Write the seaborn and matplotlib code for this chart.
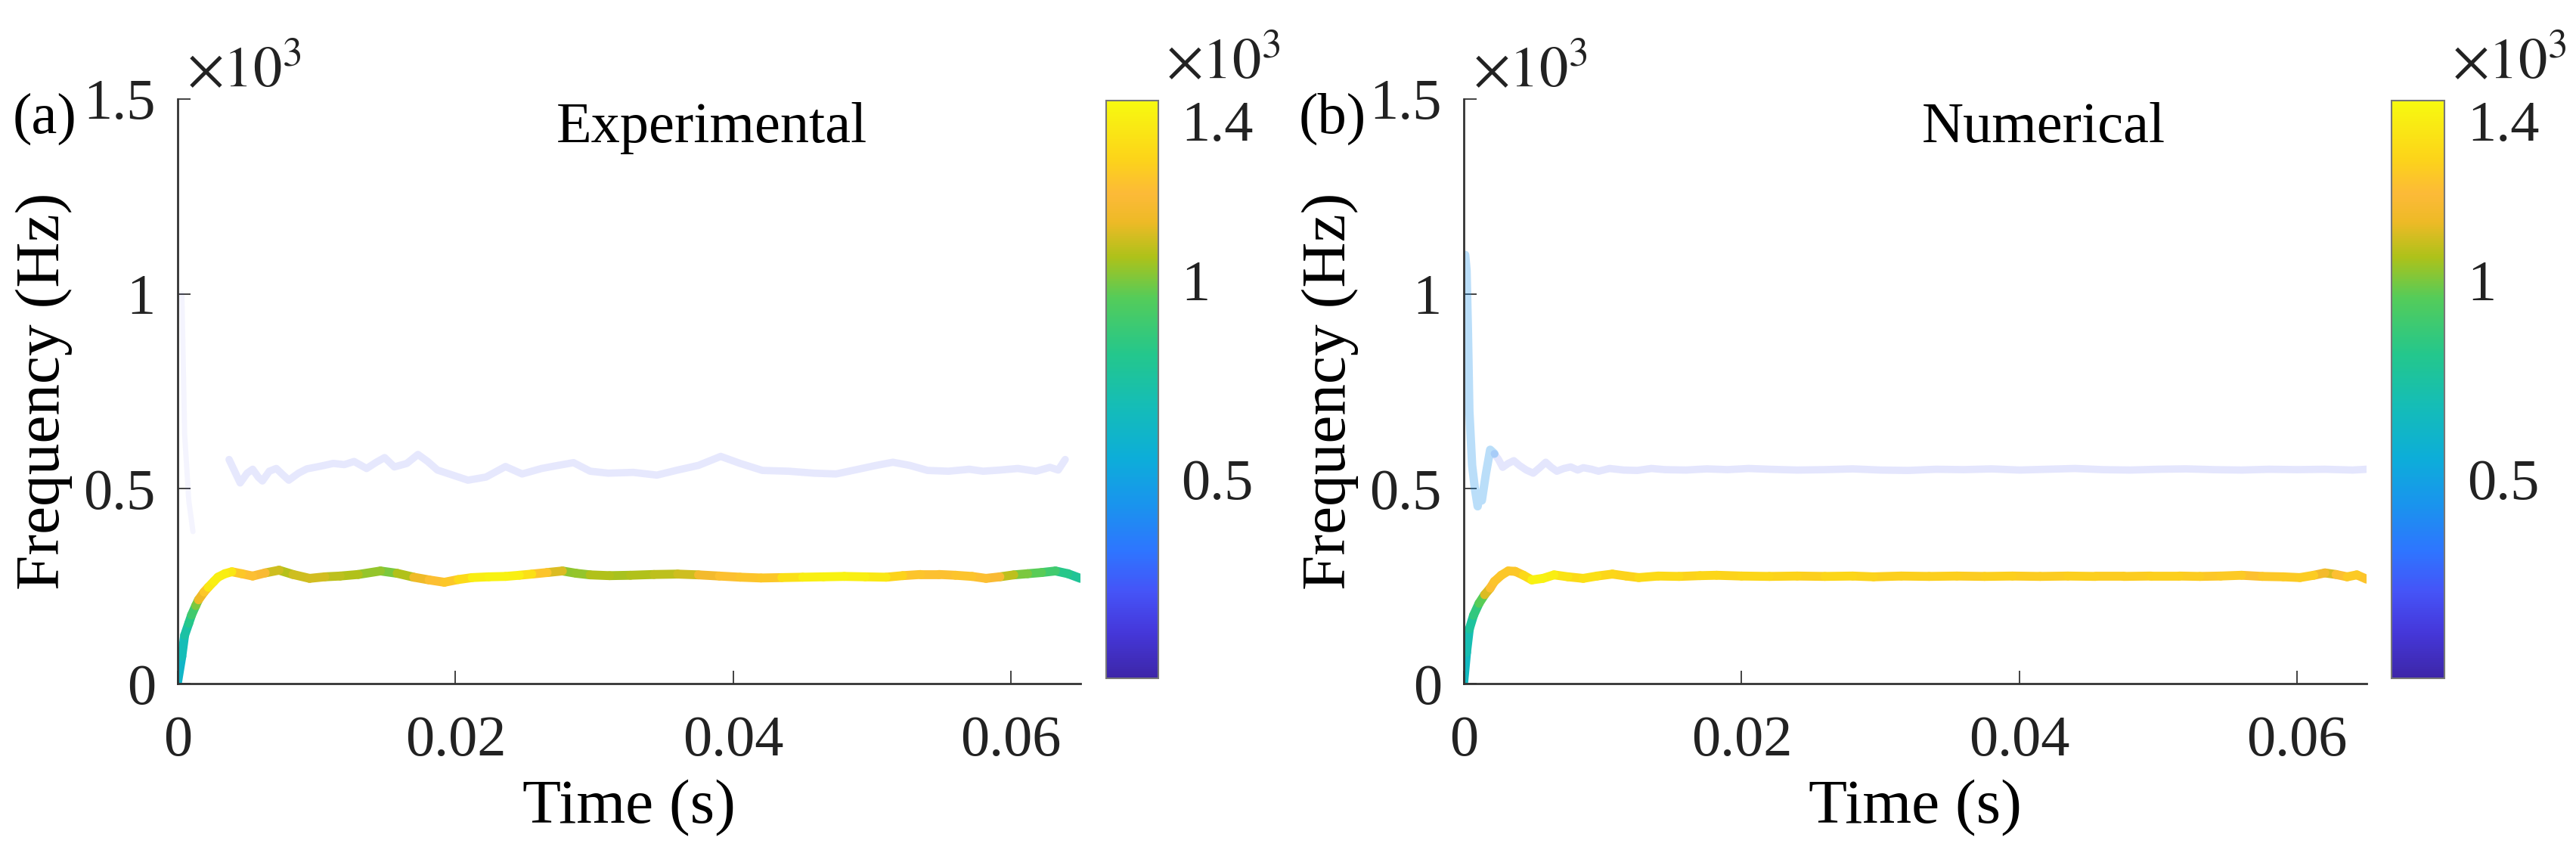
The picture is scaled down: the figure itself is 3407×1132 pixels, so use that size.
import numpy as np
import pandas as pd
import matplotlib.pyplot as plt
import seaborn as sns
from matplotlib.colors import LinearSegmentedColormap, Normalize
from matplotlib.cm import ScalarMappable

# ---- (a) experimental: main ridge (time s, frequency Hz, magnitude) ----
exp_main_t = [0.0000, 0.0003, 0.0005, 0.0008, 0.0010, 0.0013, 0.0015, 0.0019, 0.0022, 0.0026,
              0.0029, 0.0034, 0.0039, 0.0046, 0.0054, 0.0063, 0.0073, 0.0083, 0.0095, 0.0106,
              0.0117, 0.0130, 0.0146, 0.0158, 0.0170, 0.0181, 0.0192, 0.0202, 0.0212, 0.0224,
              0.0236, 0.0246, 0.0255, 0.0266, 0.0277, 0.0287, 0.0297, 0.0311, 0.0326, 0.0343,
              0.0360, 0.0375, 0.0390, 0.0405, 0.0420, 0.0435, 0.0450, 0.0465, 0.0480, 0.0495,
              0.0510, 0.0522, 0.0535, 0.0548, 0.0560, 0.0572, 0.0582, 0.0592, 0.0602, 0.0612,
              0.0622, 0.0632, 0.0641, 0.0650]
exp_main_f = [5, 70, 124, 155, 176, 200, 215, 235, 247, 262,
              273, 282, 287, 282, 276, 284, 291, 280, 270, 274,
              276, 280, 289, 283, 273, 266, 260, 267, 272, 274,
              275, 278, 281, 285, 289, 283, 279, 277, 278, 280,
              281, 279, 276, 273, 271, 272, 273, 274, 275, 274,
              273, 277, 280, 280, 278, 275, 270, 274, 279, 282,
              285, 289, 282, 270]
exp_main_amp = [620, 680, 740, 820, 900, 1000, 1150, 1260, 1380, 1410,
                1400, 1380, 1260, 1230, 1200, 1100, 1070, 1100, 1110, 1080,
                1060, 1030, 1000, 1060, 1150, 1230, 1260, 1330, 1400, 1420,
                1410, 1350, 1250, 1120, 1020, 1030, 1060, 1050, 1060, 1080,
                1100, 1170, 1240, 1250, 1260, 1350, 1410, 1420, 1410, 1380,
                1300, 1250, 1240, 1240, 1250, 1230, 1200, 1080, 1000, 960,
                900, 820, 780, 760]

# ---- (a) experimental: weak second ridge ----
exp_sub_t = [0.0037, 0.0041, 0.0045, 0.0050, 0.0054, 0.0058, 0.0061, 0.0066, 0.0071, 0.0076,
             0.0080, 0.0087, 0.0093, 0.0103, 0.0112, 0.0120, 0.0127, 0.0136, 0.0143, 0.0149,
             0.0156, 0.0165, 0.0173, 0.0180, 0.0187, 0.0198, 0.0209, 0.0222, 0.0236, 0.0248,
             0.0262, 0.0274, 0.0285, 0.0297, 0.0310, 0.0328, 0.0345, 0.0360, 0.0375, 0.0391,
             0.0405, 0.0421, 0.0440, 0.0458, 0.0474, 0.0490, 0.0503, 0.0515, 0.0527, 0.0540,
             0.0555, 0.0570, 0.0580, 0.0592, 0.0605, 0.0618, 0.0628, 0.0634, 0.0639]
exp_sub_f = [575, 545, 515, 540, 550, 530, 520, 545, 552, 535,
             522, 540, 551, 558, 565, 562, 570, 552, 568, 580,
             556, 565, 588, 570, 548, 535, 522, 530, 557, 538,
             552, 560, 567, 545, 540, 542, 535, 548, 560, 583,
             565, 547, 545, 540, 538, 550, 560, 568, 560, 547,
             545, 550, 545, 548, 552, 545, 555, 548, 575]
exp_sub_amp = 200
exp_spike_t = [0.0003, 0.0005, 0.0008, 0.0011]
exp_spike_f = [1000, 640, 470, 390]

# ---- (b) numerical: main ridge ----
num_main_t = [0.0000, 0.0002, 0.0004, 0.0007, 0.0011, 0.0015, 0.0019, 0.0022, 0.0027, 0.0032,
              0.0037, 0.0043, 0.0049, 0.0057, 0.0065, 0.0075, 0.0086, 0.0096, 0.0107, 0.0117,
              0.0126, 0.0140, 0.0155, 0.0170, 0.0182, 0.0200, 0.0220, 0.0240, 0.0260, 0.0280,
              0.0295, 0.0315, 0.0335, 0.0355, 0.0375, 0.0395, 0.0415, 0.0435, 0.0455, 0.0475,
              0.0495, 0.0515, 0.0530, 0.0545, 0.0560, 0.0575, 0.0590, 0.0602, 0.0612, 0.0620,
              0.0628, 0.0636, 0.0643, 0.0650]
num_main_f = [5, 80, 140, 175, 206, 228, 245, 262, 278, 289,
              288, 278, 266, 270, 279, 274, 270, 276, 281, 276,
              272, 276, 275, 277, 278, 276, 275, 276, 275, 276,
              274, 276, 275, 276, 275, 276, 275, 276, 275, 275,
              276, 276, 275, 276, 278, 275, 274, 272, 278, 284,
              280, 274, 279, 268]
num_main_amp = [650, 700, 760, 850, 960, 1120, 1230, 1250, 1260, 1250,
                1260, 1320, 1420, 1400, 1360, 1330, 1350, 1310, 1300, 1300,
                1330, 1320, 1300, 1310, 1300, 1310, 1300, 1290, 1310, 1300,
                1290, 1290, 1290, 1280, 1290, 1280, 1280, 1290, 1280, 1280,
                1290, 1280, 1260, 1270, 1240, 1260, 1270, 1280, 1170, 1120,
                1230, 1270, 1250, 1240]

# ---- (b) numerical: start transient + weak second ridge ----
num_sub_t = [0.0001, 0.0002, 0.0003, 0.0004, 0.0006, 0.0008, 0.0010, 0.0011, 0.0013, 0.0016,
             0.0019, 0.0022, 0.0025, 0.0028, 0.0032, 0.0036, 0.0040, 0.0045, 0.0050, 0.0055,
             0.0059, 0.0063, 0.0067, 0.0072, 0.0077, 0.0082, 0.0086, 0.0092, 0.0097, 0.0105,
             0.0115, 0.0125, 0.0135, 0.0145, 0.0160, 0.0175, 0.0190, 0.0205, 0.0220, 0.0240,
             0.0260, 0.0280, 0.0300, 0.0320, 0.0340, 0.0360, 0.0380, 0.0400, 0.0420, 0.0440,
             0.0460, 0.0480, 0.0500, 0.0520, 0.0540, 0.0560, 0.0580, 0.0600, 0.0620, 0.0640,
             0.0650]
num_sub_f = [1100, 1060, 900, 700, 560, 500, 455, 480, 470, 540,
             600, 590, 575, 555, 565, 572, 560, 548, 540, 555,
             568, 555, 545, 552, 556, 548, 554, 550, 545, 552,
             548, 547, 552, 549, 548, 551, 549, 552, 550, 548,
             549, 551, 548, 547, 550, 549, 551, 548, 550, 552,
             549, 548, 550, 551, 549, 548, 550, 549, 550, 548,
             550]
num_transient_end = 12   # points belonging to the bluish start transient
num_transient_amp = 430
num_sub_amp = 200

titles = ['Experimental', 'Numerical']
panel_tags = ['(a)', '(b)']
y_ticks = [0, 500, 1000, 1500]
y_ticklabels = ['0', '0.5', '1', '1.5']
x_ticks = [0, 0.02, 0.04, 0.06]
x_ticklabels = ['0', '0.02', '0.04', '0.06']
cb_ticks = [500, 1000, 1400]
cb_ticklabels = ['0.5', '1', '1.4']

# parula-like colormap
parula_stops = [(0.00, (0.24, 0.15, 0.66)), (0.08, (0.27, 0.22, 0.86)),
                (0.15, (0.27, 0.33, 0.97)), (0.22, (0.18, 0.46, 1.00)),
                (0.30, (0.10, 0.58, 0.93)), (0.38, (0.05, 0.68, 0.85)),
                (0.47, (0.08, 0.74, 0.72)), (0.56, (0.14, 0.78, 0.55)),
                (0.66, (0.33, 0.80, 0.35)), (0.73, (0.68, 0.76, 0.10)),
                (0.79, (0.93, 0.73, 0.15)), (0.84, (0.99, 0.73, 0.22)),
                (0.90, (0.99, 0.83, 0.10)), (1.00, (0.97, 0.98, 0.06))]
parula = LinearSegmentedColormap.from_list('parula_like', parula_stops)
norm = Normalize(0, 1450)

sns.set_style('ticks')
plt.rcParams['font.family'] = ['Liberation Serif', 'DejaVu Serif']
plt.rcParams['mathtext.fontset'] = 'stix'

TICK_FS = 55
LABEL_FS = 60
INK = '#222222'


def ridge(ax, t, f, amp, lw=8.5):
    # one short line per step so that colour can follow the magnitude
    rows = []
    for i in range(len(t) - 1):
        rows.append((t[i], f[i], i, amp[i]))
        rows.append((t[i + 1], f[i + 1], i, amp[i]))
    df = pd.DataFrame(rows, columns=['t', 'f', 'seg', 'amp'])
    sns.lineplot(data=df, x='t', y='f', hue='amp', units='seg', estimator=None,
                 palette=parula, hue_norm=norm, sort=False, legend=False,
                 linewidth=lw, solid_capstyle='round', ax=ax)


def faint(ax, t, f, amp, alpha, lw=7):
    sns.lineplot(x=t, y=f, color=parula(norm(amp)), alpha=alpha, sort=False,
                 estimator=None, linewidth=lw, solid_capstyle='round', ax=ax)


W, H = 3407, 1132
fig = plt.figure(figsize=(W / 100, H / 100), dpi=100)

ax_pos = [(235, 1194), (1936, 1194)]
cb_pos = [(1463, 69), (3163, 70)]
tag_x = [17, 1718]
title_x = [0.764, 0.777]
axes = []
for k in range(2):
    x0, w = ax_pos[k]
    ax = fig.add_axes([x0 / W, (H - 904) / H, w / W, 773 / H])
    axes.append(ax)

# weak ridges first, strong ridge on top
faint(axes[0], exp_spike_t, exp_spike_f, exp_sub_amp, 0.06, lw=5)
faint(axes[0], exp_sub_t, exp_sub_f, exp_sub_amp, 0.13)
ridge(axes[0], exp_main_t, exp_main_f, exp_main_amp)

faint(axes[1], num_sub_t[num_transient_end - 1:], num_sub_f[num_transient_end - 1:],
      num_sub_amp, 0.14)
faint(axes[1], num_sub_t[:num_transient_end], num_sub_f[:num_transient_end],
      num_transient_amp, 0.30, lw=8)
ridge(axes[1], num_main_t, num_main_f, num_main_amp)

for k, ax in enumerate(axes):
    ax.set_xlim(0, 0.065)
    ax.set_ylim(0, 1500)
    ax.set_xticks(x_ticks, labels=x_ticklabels)
    ax.set_yticks(y_ticks, labels=y_ticklabels)
    ax.tick_params(axis='both', direction='in', length=12, width=1.2,
                   colors=INK, labelsize=TICK_FS)
    ax.tick_params(axis='x', pad=30)
    ax.tick_params(axis='y', pad=21)
    sns.despine(ax=ax)
    for s in ['left', 'bottom']:
        ax.spines[s].set_linewidth(2)
        ax.spines[s].set_color('#333333')
    ax.set_xlabel('Time (s)', fontsize=LABEL_FS, color='black', labelpad=12)
    ax.set_ylabel('Frequency (Hz)', fontsize=LABEL_FS, color='black', labelpad=10)
    ax.text(0.01, 1.021, r'$\times10^{3}$', transform=ax.transAxes,
            fontsize=TICK_FS, va='baseline', ha='left', color=INK)
    ax.text(title_x[k], 0.926, titles[k], transform=ax.transAxes,
            fontsize=55, va='baseline', ha='right', color='black')
    fig.text(tag_x[k] / W, 1 - 176 / H, panel_tags[k], fontsize=55,
             va='baseline', ha='left', color='black')

    cx0, cw = cb_pos[k]
    cax = fig.add_axes([cx0 / W, (H - 897) / H, cw / W, 764 / H])
    cb = fig.colorbar(ScalarMappable(norm=norm, cmap=parula), cax=cax)
    cb.set_ticks(cb_ticks, labels=cb_ticklabels)
    cax.tick_params(direction='in', length=10, width=1.2, colors=INK,
                    labelsize=TICK_FS, pad=22)
    cb.outline.set_edgecolor('#777777')
    cb.outline.set_linewidth(1.5)
    cax.text(1.14, 1.039, r'$\times10^{3}$', transform=cax.transAxes,
             fontsize=TICK_FS, va='baseline', ha='left', color=INK)

fig.savefig('out.png', dpi=100, facecolor='white')
